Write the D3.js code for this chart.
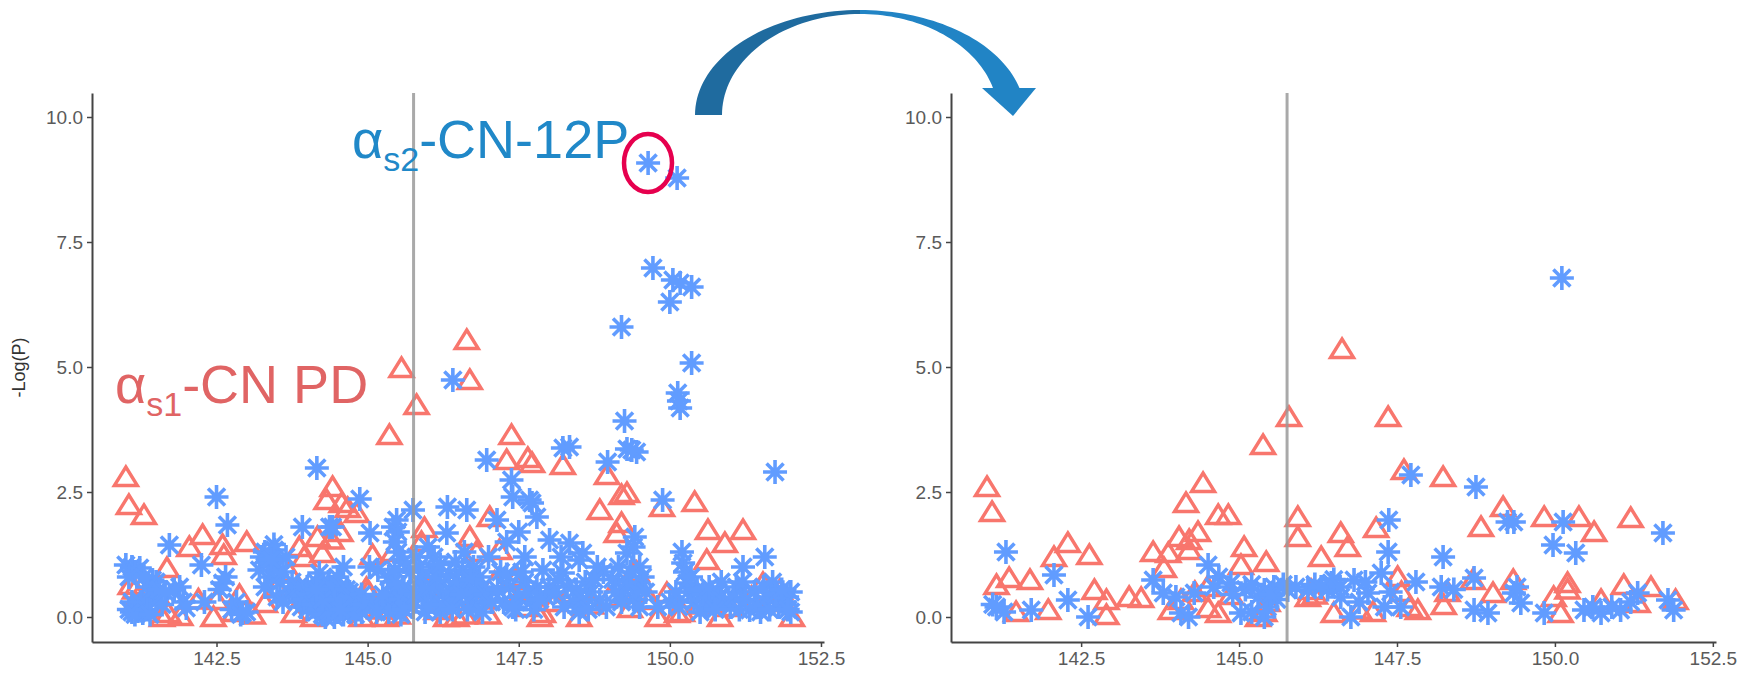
<!DOCTYPE html>
<html>
<head>
<meta charset="utf-8">
<script src="https://cdn.jsdelivr.net/npm/d3@7"></script>
<style>
  body { margin: 0; background: #fff; }
  svg { display: block; font-family: "Liberation Sans", Arial, sans-serif; }
</style>
</head>
<body>
<div id="chart"></div>
<script>
// tick labels and fixed reference position
var xTicks = [142.5, 145, 147.5, 150, 152.5];
var yTicks = [0, 2.5, 5, 7.5, 10];
var xDomain = [140.44, 152.55];
var yDomain = [-0.5, 10.48];
var cutPos = 145.76;
var yTitle = '-Log(P)';

// left panel, triangles (alpha s1-CN)
var leftRed = [
  [141.0,2.8],[141.05,2.24],[141.3,2.04],[141.08,0.64],[141.15,0.55],[141.68,0.98],[141.7,0.08],[141.6,0.0],[141.9,0.02],[141.2,0.4],
  [142.05,1.4],[142.27,1.64],[142.6,1.44],[142.62,1.24],[143.0,1.5],[142.5,0.34],[142.88,0.44],[143.3,0.28],[142.45,0.0],[142.8,0.1],
  [142.2,0.35],[143.1,0.05],
  [143.78,0.08],[143.87,1.4],[143.95,1.2],[144.17,1.6],[144.25,1.28],[144.32,2.34],[144.42,2.6],[144.57,2.28],[144.67,2.18],[144.82,2.08],
  [144.55,1.7],[144.4,1.55],[144.1,0.0],[144.3,0.2],[144.55,0.3],[143.5,0.6],[143.7,0.9],[144.9,0.0],
  [144.98,0.58],[145.0,0.5],[145.08,1.24],[145.42,1.3],[145.36,3.64],[145.56,4.98],[145.81,4.24],[145.3,0.0],[145.5,0.05],[145.2,0.15],
  [145.94,1.78],[145.89,1.5],[146.0,0.6],[146.14,0.14],[146.3,0.0],[146.47,0.0],[146.6,0.05],[146.64,5.54],[146.69,4.74],[146.69,1.6],
  [146.8,1.3],[147.02,2.0],[147.18,1.34],[146.9,0.35],[147.1,0.7],[146.2,0.3],[147.0,0.05],
  [147.38,3.64],[147.3,3.14],[147.65,3.18],[147.72,3.08],[148.23,3.04],[147.47,0.8],[147.43,0.74],[147.55,0.5],[147.85,0.0],[147.9,0.08],
  [147.6,0.2],[148.34,0.48],[148.1,0.3],[148.5,0.0],
  [148.96,2.84],[149.2,2.44],[149.29,2.48],[148.84,2.14],[149.2,1.88],[149.12,1.68],[149.39,0.88],[149.45,0.9],[149.34,0.18],[149.67,0.34],
  [149.95,0.48],[150.12,0.08],[150.2,0.1],[149.0,0.4],[148.7,0.25],[149.8,0.0],
  [149.87,2.2],[150.41,2.3],[150.63,1.74],[150.91,1.48],[151.21,1.74],[150.61,1.14],[150.83,0.0],[151.54,0.68],[151.82,0.54],[152.02,0.0],
  [151.0,0.2],[151.35,0.4],[150.5,0.25],[151.7,0.3]
];

// left panel, asterisks (alpha s2-CN)
var leftBlue = [
  [141.0,1.04],[141.1,1.0],[141.23,0.98],[141.15,0.9],[141.44,0.74],[141.5,0.7],[141.35,0.6],[141.72,1.44],[141.89,0.6],[141.8,0.55],
  [141.18,0.2],[141.28,0.08],[141.1,0.3],[141.3,0.25],[141.2,0.12],[141.5,0.3],[141.95,0.3],[142.0,0.18],[141.1,0.1],[141.4,0.45],[141.6,0.25],
  [141.05,0.15],[141.15,0.05],[141.25,0.3],[141.35,0.15],[141.4,0.05],[141.05,0.8],[141.3,0.8],[141.55,0.55],[141.65,0.5],
  [142.25,1.04],[142.5,2.4],[142.68,1.84],[142.6,0.68],[142.55,0.55],[142.65,0.8],[142.93,0.08],[142.83,0.3],[142.75,0.15],[142.9,0.05],
  [143.0,0.1],[142.3,0.3],
  [143.46,1.34],[143.21,0.94],[143.4,0.8],[143.35,1.1],[143.5,1.0],[143.3,0.6],[143.55,0.7],[143.92,1.8],[143.6,0.9],[143.7,0.5],
  [143.8,0.4],[143.65,1.2],[143.45,1.45],[143.25,1.2],[143.3,1.3],[143.4,1.15],[143.5,0.4],[143.6,0.3],[143.75,0.7],[143.85,0.6],[143.9,0.2],
  [144.16,2.98],[144.42,1.8],[144.37,1.8],[144.2,0.88],[144.0,0.6],[144.1,0.5],[144.2,0.4],[144.3,0.3],[144.4,0.2],[144.5,0.1],
  [144.6,0.05],[144.15,0.1],[144.25,0.6],[144.35,0.7],[144.45,0.5],[144.55,0.4],[144.65,0.3],[144.75,0.2],[144.85,0.15],[144.05,0.3],
  [144.3,0.0],[144.45,0.0],[144.7,0.5],[144.8,0.35],[144.9,0.1],[144.0,0.15],[144.6,1.0],[144.87,2.36],[145.04,1.68],[144.5,0.8],
  [144.15,0.7],[143.95,0.35],
  [144.05,0.45],[144.1,0.25],[144.2,0.15],[144.25,0.05],[144.35,0.45],[144.4,0.6],[144.5,0.35],[144.55,0.6],[144.6,0.2],[144.65,0.55],
  [144.7,0.1],[144.75,0.4],[144.8,0.05],[144.85,0.3],[144.9,0.45],[144.95,0.25],[144.35,0.15],[144.45,0.3],[144.55,0.15],[144.25,0.35],[144.15,0.55],
  [145.42,1.8],[145.48,1.94],[145.75,2.14],[145.17,0.94],[145.03,1.0],[145.3,0.3],[145.4,0.4],[145.5,0.5],[145.6,0.6],[145.45,0.2],
  [145.55,0.05],[145.35,0.1],[145.65,0.3],[145.7,0.9],[145.8,1.2],[145.85,0.7],[145.9,0.4],[145.95,0.1],[145.6,1.1],[145.2,0.2],
  [145.35,0.8],[145.5,1.3],
  [145.1,0.3],[145.15,0.1],[145.25,0.45],[145.4,0.7],[145.45,0.95],[145.5,0.65],[145.55,0.35],[145.6,0.15],[145.7,0.5],[145.75,0.2],
  [145.8,0.45],[145.85,1.0],[145.9,0.8],[145.95,0.55],[145.5,1.7],[145.45,1.5],
  [146.32,2.2],[146.41,4.74],[146.64,2.14],[146.97,3.14],[146.31,1.68],[146.08,0.94],[146.57,0.94],[146.0,1.4],[146.1,1.2],[146.2,0.6],
  [146.3,0.4],[146.4,0.5],[146.5,0.3],[146.6,0.6],[146.7,0.4],[146.8,0.2],[146.9,0.6],[146.2,0.1],[146.45,1.1],[146.75,1.0],
  [146.1,0.3],[146.05,0.6],[146.85,0.8],[147.0,1.2],
  [146.0,0.2],[146.15,0.8],[146.25,0.25],[146.35,0.85],[146.4,0.15],[146.5,0.7],[146.55,0.45],[146.65,0.15],[146.7,0.75],[146.8,0.5],
  [146.9,0.1],[146.95,0.45],[146.2,1.05],[146.6,1.3],
  [147.38,2.74],[147.4,2.4],[147.72,2.28],[147.8,2.0],[147.14,1.94],[147.68,2.34],[147.5,1.7],[147.3,1.5],[147.6,1.2],[147.2,0.9],
  [147.35,0.6],[147.5,0.4],[147.7,0.3],[147.45,0.15],[147.9,0.94],[147.8,0.6],[147.25,0.3],[147.6,0.7],[147.95,0.4],
  [147.05,0.3],[147.15,0.55],[147.3,0.85],[147.4,0.2],[147.55,0.9],[147.65,0.5],[147.75,0.15],[147.85,0.35],[148.0,0.6],
  [148.23,3.38],[148.01,1.54],[148.34,1.48],[148.56,1.28],[148.23,0.88],[148.5,1.14],[148.1,0.5],[148.3,0.6],[148.4,0.3],[148.6,0.7],
  [148.7,0.5],[148.84,0.34],[148.5,0.1],[148.9,0.9],[148.34,3.4],[148.97,3.1],[148.8,1.0],[148.2,1.2],
  [148.15,0.75],[148.25,0.2],[148.45,0.55],[148.55,0.35],[148.65,0.15],[148.75,0.75],[148.95,0.2],[149.05,0.75],[149.15,1.0],[149.25,0.55],
  [149.4,0.35],[149.45,0.6],[149.55,0.8],
  [149.64,9.08],[150.12,8.78],[149.72,6.98],[150.17,6.68],[150.36,6.6],[150.0,6.3],[150.05,6.74],[149.2,5.8],[150.36,5.08],[150.13,4.48],
  [150.17,4.18],[150.15,4.32],[149.25,3.92],[149.29,3.36],[149.45,3.3],[149.37,3.34],[149.88,2.34],[149.42,1.6],[149.29,1.28],[149.4,1.4],
  [149.5,1.0],[149.3,0.7],[149.1,0.5],[149.2,0.3],[149.5,0.2],[149.6,0.5],[149.35,0.9],[149.8,0.2],[150.0,0.3],
  [150.22,1.08],[150.28,0.68],[150.2,1.3],[150.25,0.9],[150.3,0.5],[150.4,0.3],[150.71,0.34],[150.6,0.2],[150.8,0.5],[150.9,0.3],
  [151.21,1.0],[151.57,1.2],[151.74,2.9],[151.94,0.4],[151.32,0.14],[151.1,0.6],[151.2,0.7],[151.4,0.5],[151.6,0.4],[151.8,0.2],
  [151.9,0.3],[152.0,0.1],[151.5,0.1],[151.7,0.7],[152.0,0.5],[151.0,0.2],
  [150.1,0.5],[150.15,0.2],[150.35,0.8],[150.45,0.55],[150.5,0.1],[150.55,0.45],[150.65,0.6],[150.75,0.15],[150.85,0.7],[151.05,0.4],
  [151.15,0.15],[151.25,0.35],[151.45,0.2],[151.55,0.6],[151.65,0.15],[151.75,0.45],[151.85,0.55],[151.95,0.15]
];

// right panel, triangles
var rightRed = [
  [141.01,2.6],[141.09,2.1],[141.16,0.64],[141.36,0.78],[141.69,0.74],[141.47,0.1],[141.98,0.14],[142.07,1.2],[142.29,1.48],[142.63,1.24],
  [142.71,0.54],[142.9,0.34],[142.9,0.04],[143.26,0.4],[143.45,0.38],[143.64,1.3],[143.88,1.28],[143.81,0.98],[144.05,1.6],[144.21,1.54],
  [144.35,1.7],[144.21,1.34],[144.16,2.28],[144.43,2.68],[144.67,2.04],[144.83,2.04],[145.08,1.4],[145.03,1.04],[145.43,1.1],[145.38,3.44],
  [145.79,4.0],[145.93,2.0],[145.93,1.6],[144.87,0.44],[143.92,0.14],[144.08,0.34],[144.51,0.18],[144.67,0.08],[145.4,0.1],[146.09,0.4],
  [144.3,0.5],[144.5,0.6],[145.3,0.0],[145.45,0.3],
  [146.63,5.36],[147.36,4.0],[147.61,2.94],[148.23,2.8],[149.18,2.2],[148.83,1.8],[149.83,2.0],[150.38,2.0],[150.62,1.7],[151.2,1.98],
  [147.17,1.78],[146.61,1.68],[146.72,1.4],[146.3,1.2],[147.51,0.8],[146.14,0.54],[147.83,0.14],[147.12,0.1],[146.5,0.08],[148.24,0.24],
  [148.7,0.74],[149.02,0.48],[149.34,0.74],[150.2,0.68],[150.09,0.08],[150.73,0.34],[151.09,0.64],[151.52,0.6],[151.91,0.34],[151.31,0.28],
  [149.98,0.4],[150.2,0.55],[147.57,0.5],[147.7,0.2],[146.9,0.15],[148.3,0.5],[146.2,0.45]
];

// right panel, asterisks
var rightBlue = [
  [141.31,1.3],[142.07,0.84],[142.29,0.34],[142.61,0.0],[141.16,0.2],[141.28,0.1],[141.71,0.14],[141.1,0.25],[143.64,0.74],[143.8,0.48],
  [144.51,1.04],[144.68,0.8],[144.87,0.68],[144.08,0.08],[145.03,0.08],[145.4,0.54],[145.55,0.6],[145.77,0.54],[146.09,0.54],[145.4,0.0],
  [144.29,0.48],[144.0,0.4],[144.2,0.0],[145.3,0.4],[145.2,0.1],[145.6,0.35],[145.45,0.2],
  [144.6,0.6],[144.9,0.45],[145.1,0.55],[145.2,0.65],[145.5,0.45],[145.7,0.65],[145.9,0.6],[146.2,0.65],[146.4,0.55],[146.5,0.75],
  [150.11,6.78],[148.75,2.6],[149.35,1.9],[149.25,1.9],[150.13,1.9],[149.97,1.44],[150.33,1.28],[151.71,1.68],[147.37,1.94],
  [147.36,1.3],[147.72,2.84],[148.23,1.2],[147.25,0.88],[147.8,0.7],[146.82,0.74],[146.46,0.68],[146.3,0.6],[147.04,0.48],[146.61,0.4],
  [146.77,0.0],[147.56,0.2],[148.2,0.6],[148.4,0.55],[148.72,0.78],[148.72,0.14],[148.94,0.08],[149.35,0.48],[149.46,0.28],[149.4,0.6],
  [149.83,0.08],[150.46,0.14],[150.73,0.08],[151.04,0.14],[151.31,0.48],[151.79,0.34],[151.88,0.14],[146.6,0.6],[147.0,0.7],[147.4,0.5],
  [147.3,0.2],[146.9,0.3],[150.6,0.2],[150.9,0.2],[151.2,0.3]
];

var width = 1754, height = 674;
var plotTop = 93, plotBottom = 642;
var redCol = '#F8766D', blueCol = '#619CFF';

var svg = d3.select('#chart').append('svg')
    .attr('width', width)
    .attr('height', height)
    .style('background', '#fff');

var yScale = d3.scaleLinear().domain(yDomain).range([plotBottom, plotTop]);

var triPath = 'M0,-10L11.5,8.5L-11.5,8.5Z';
var r = 12, rd = 8.5;
var starPath = 'M' + (-r) + ',0L' + r + ',0M0,' + (-r) + 'L0,' + r +
               'M' + (-rd) + ',' + (-rd) + 'L' + rd + ',' + rd +
               'M' + (-rd) + ',' + rd + 'L' + rd + ',' + (-rd);

var panels = [
  { x0: 92, x1: 824, red: leftRed, blue: leftBlue, title: true },
  { x0: 951, x1: 1716, red: rightRed, blue: rightBlue, title: false }
];

panels.forEach(function(p) {
    var xScale = d3.scaleLinear().domain(xDomain).range([p.x0, p.x1]);
    var g = svg.append('g');

    g.selectAll('path.tri').data(p.red)
      .enter().append('path')
        .attr('class', 'tri')
        .attr('d', triPath)
        .attr('transform', function(d) { return 'translate(' + xScale(d[0]) + ',' + yScale(d[1]) + ')'; })
        .style('fill', 'none')
        .style('stroke', redCol)
        .style('stroke-width', 3.4);

    g.selectAll('path.star').data(p.blue)
      .enter().append('path')
        .attr('class', 'star')
        .attr('d', starPath)
        .attr('transform', function(d) { return 'translate(' + xScale(d[0]) + ',' + yScale(d[1]) + ')'; })
        .style('fill', 'none')
        .style('stroke', blueCol)
        .style('stroke-width', 3.6);

    // reference line
    g.append('line')
        .attr('x1', xScale(cutPos)).attr('x2', xScale(cutPos))
        .attr('y1', plotTop).attr('y2', plotBottom)
        .style('stroke', '#9a9a9a')
        .style('stroke-opacity', 0.85)
        .style('stroke-width', 3);

    var xAxis = g.append('g')
        .attr('transform', 'translate(0,' + plotBottom + ')')
        .call(d3.axisBottom(xScale).tickValues(xTicks).tickFormat(d3.format('.1f')).tickSize(5).tickPadding(5).tickSizeOuter(0));
    var yAxis = g.append('g')
        .attr('transform', 'translate(' + p.x0 + ',0)')
        .call(d3.axisLeft(yScale).tickValues(yTicks).tickFormat(d3.format('.1f')).tickSize(5).tickPadding(4).tickSizeOuter(0));

    [xAxis, yAxis].forEach(function(a) {
        a.select('.domain').style('stroke', '#444').style('stroke-width', 2);
        a.selectAll('.tick line').style('stroke', '#444').style('stroke-width', 1.5);
        a.selectAll('.tick text')
            .style('font-family', '"Liberation Sans", Arial, sans-serif')
            .style('font-size', '19px')
            .style('fill', '#5a5a5a');
    });

    if (p.title) {
        g.append('text')
            .attr('transform', 'translate(25,' + (plotTop + plotBottom) / 2 + ') rotate(-90)')
            .attr('text-anchor', 'middle')
            .style('font-size', '18px')
            .style('fill', '#333')
            .text(yTitle);
    }
});

// annotations
function subLabel(x, y, sub, rest, col) {
    var t = svg.append('text')
        .attr('x', x).attr('y', y)
        .style('font-size', '54px')
        .style('fill', col);
    t.append('tspan').text('α');
    t.append('tspan').attr('dy', 13).style('font-size', '34px').text(sub);
    t.append('tspan').attr('dy', -13).text(rest);
}
subLabel(352, 158, 's2', '-CN-12P', '#2088C8');
subLabel(115, 403, 's1', '-CN PD', '#E06464');

svg.append('ellipse')
    .attr('cx', 648).attr('cy', 163)
    .attr('rx', 24).attr('ry', 29)
    .style('fill', 'none')
    .style('stroke', '#E6004E')
    .style('stroke-width', 4.5);

// curved arrow between the panels
var acx = 860, acy = 115;
var outer = { rx: 165, ry: 105 }, inner = { rx: 138, ry: 101 };
function arcPts(e, t0, t1, n) {
    var pts = [];
    for (var i = 0; i <= n; i++) {
        var t = t0 + (t1 - t0) * i / n;
        pts.push([acx + e.rx * Math.cos(t), acy - e.ry * Math.sin(t)]);
    }
    return pts;
}
var tOut = Math.asin(27 / outer.ry), tIn = Math.asin(27 / inner.ry);
var line = d3.line();
var darkPart = arcPts(outer, Math.PI, Math.PI / 2, 40).concat(arcPts(inner, Math.PI / 2, Math.PI, 40));
var lightPart = arcPts(outer, Math.PI / 2, tOut, 40).concat(arcPts(inner, tIn, Math.PI / 2, 40));
svg.append('path').attr('d', line(darkPart) + 'Z').style('fill', '#1F6B9F');
svg.append('path').attr('d', line(lightPart) + 'Z').style('fill', '#2184C5');
svg.append('path').attr('d', 'M982,88L1036,88L1013,116Z').style('fill', '#2184C5');
</script>
</body>
</html>
